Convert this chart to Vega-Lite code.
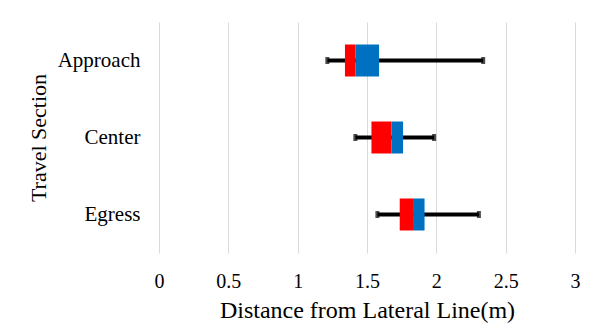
{
  "$schema": "https://vega.github.io/schema/vega-lite/v6.json",
  "width": 416,
  "height": 231,
  "autosize": {"type": "none"},
  "padding": {"left": 159, "top": 22, "right": 20, "bottom": 79},
  "background": "white",
  "config": {
    "font": "Liberation Serif",
    "view": {"stroke": null},
    "axis": {"labelColor": "black", "titleColor": "black", "titleFontWeight": "normal", "labelFont": "Liberation Serif", "titleFont": "Liberation Serif"}
  },
  "data": {"values": [
    {"section": "Approach", "low": 1.214, "q1": 1.341, "median": 1.416, "q3": 1.587, "high": 2.338},
    {"section": "Center", "low": 1.416, "q1": 1.532, "median": 1.676, "q3": 1.760, "high": 1.984},
    {"section": "Egress", "low": 1.575, "q1": 1.736, "median": 1.832, "q3": 1.915, "high": 2.307}
  ]},
  "encoding": {
    "y": {
      "field": "section", "type": "nominal", "sort": ["Approach", "Center", "Egress"],
      "scale": {"paddingInner": 0, "paddingOuter": 0},
      "axis": {"title": "Travel Section", "titleFontSize": 22, "labelFontSize": 21, "labelPadding": 19, "ticks": false, "domain": false, "grid": false, "titlePadding": 7}
    }
  },
  "layer": [
    {
      "mark": {"type": "rule", "color": "black", "strokeWidth": 4},
      "encoding": {
        "x": {"field": "low", "type": "quantitative", "scale": {"domain": [0, 3], "nice": false},
          "axis": {"title": "Distance from Lateral Line(m)", "titleFontSize": 24, "labelFontSize": 20, "values": [0, 0.5, 1, 1.5, 2, 2.5, 3], "format": "~g", "grid": true, "gridColor": "#d9d9d9", "gridWidth": 1, "ticks": false, "domain": false, "labelPadding": 18, "titlePadding": 7, "labelFlush": false}},
        "x2": {"field": "high"}
      }
    },
    {
      "mark": {"type": "bar", "color": "#ff0000", "size": 32},
      "encoding": {"x": {"field": "q1", "type": "quantitative"}, "x2": {"field": "median"}}
    },
    {
      "mark": {"type": "bar", "color": "#0070c0", "size": 32},
      "encoding": {"x": {"field": "median", "type": "quantitative"}, "x2": {"field": "q3"}}
    },
    {
      "mark": {"type": "tick", "color": "black", "size": 7, "thickness": 4, "orient": "vertical"},
      "encoding": {"x": {"field": "low", "type": "quantitative"}}
    },
    {
      "mark": {"type": "tick", "color": "black", "size": 7, "thickness": 4, "orient": "vertical"},
      "encoding": {"x": {"field": "high", "type": "quantitative"}}
    }
  ]
}
